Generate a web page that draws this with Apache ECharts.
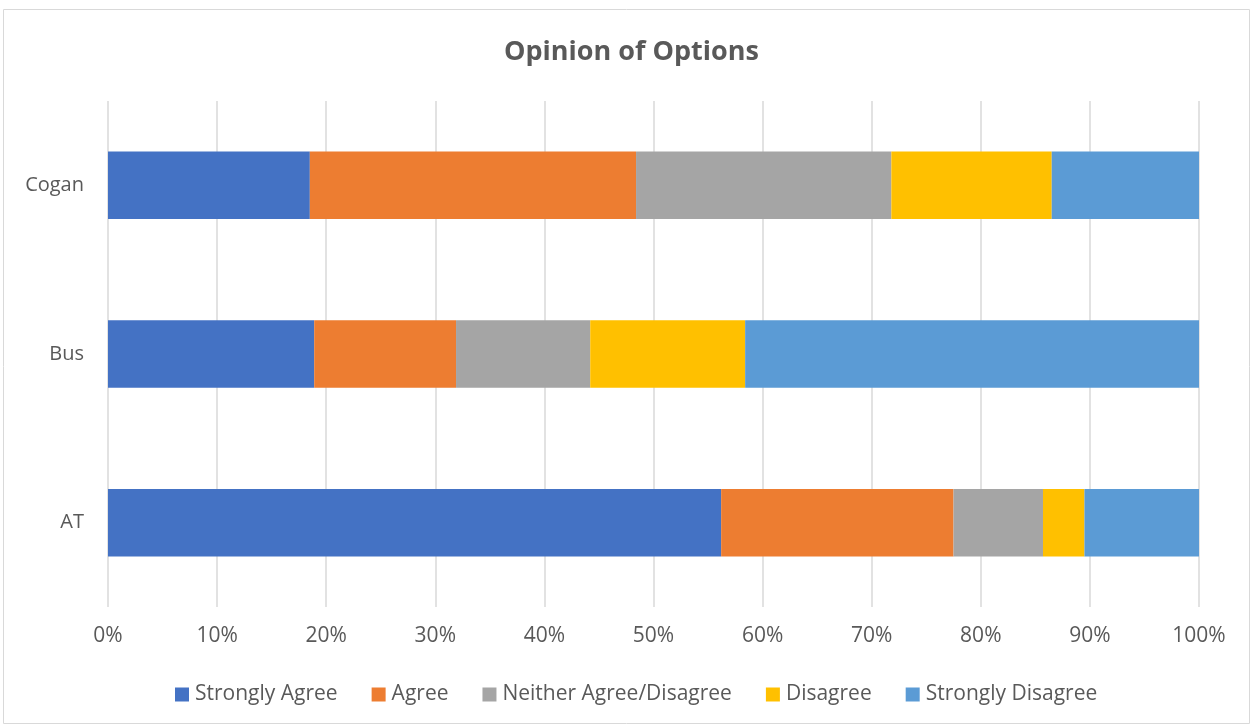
<!DOCTYPE html>
<html><head><meta charset="utf-8">
<script src="https://cdn.jsdelivr.net/npm/echarts@6/dist/echarts.min.js"></script>
<style>html,body{margin:0;padding:0;background:#fff}#c{width:1253px;height:728px}</style>
</head><body><div id="c"></div>
<script>
const categories = ['AT', 'Bus', 'Cogan'];
const seriesNames = ['Strongly Agree', 'Agree', 'Neither Agree/Disagree', 'Disagree', 'Strongly Disagree'];
const stronglyAgree = [56.2, 18.9, 18.5];
const agree = [21.3, 13.0, 29.9];
const neither = [8.2, 12.3, 23.4];
const disagree = [3.8, 14.2, 14.7];
const stronglyDisagree = [10.5, 41.6, 13.5];
const xTicks = [0, 10, 20, 30, 40, 50, 60, 70, 80, 90, 100];
const colors = ['#4472C4', '#ED7D31', '#A5A5A5', '#FFC000', '#5B9BD5'];
const values = [stronglyAgree, agree, neither, disagree, stronglyDisagree];
const FONT = 'Open Sans';
const chart = echarts.init(document.getElementById('c'), null, {renderer: 'canvas'});
chart.setOption({
  animation: false,
  textStyle: {fontFamily: FONT},
  title: {text: 'Opinion of Options', left: 499, top: 34,
    textStyle: {fontFamily: FONT, fontSize: 27, fontWeight: 'bold', color: '#595959'}},
  graphic: [{type: 'rect', shape: {x: 3.5, y: 9.5, width: 1246, height: 714},
    style: {fill: 'none', stroke: '#d9d9d9', lineWidth: 1}, silent: true}],
  legend: {data: seriesNames, top: 679, left: 170, itemWidth: 14, itemHeight: 14, itemGap: 34,
    icon: 'rect', textStyle: {fontFamily: FONT, fontSize: 21, color: '#595959', padding: [0, 0, 0, 1]}},
  grid: {left: 108, right: 54, top: 101, bottom: 121, containLabel: false},
  xAxis: {type: 'value', min: xTicks[0], max: xTicks[xTicks.length - 1], interval: 10,
    axisLine: {show: false}, axisTick: {show: false},
    splitLine: {show: true, lineStyle: {color: '#d9d9d9', width: 1.5}},
    axisLabel: {formatter: '{value}%', fontFamily: FONT, fontSize: 21, color: '#595959', margin: 19}},
  yAxis: {type: 'category', data: categories, axisLine: {show: false}, axisTick: {show: false},
    axisLabel: {fontFamily: FONT, fontSize: 20, color: '#595959', margin: 24}},
  series: seriesNames.map((n, i) => ({
    name: n, type: 'bar', stack: 'total', data: values[i], barCategoryGap: '60%',
    itemStyle: {color: colors[i]}
  }))
});
</script></body></html>
